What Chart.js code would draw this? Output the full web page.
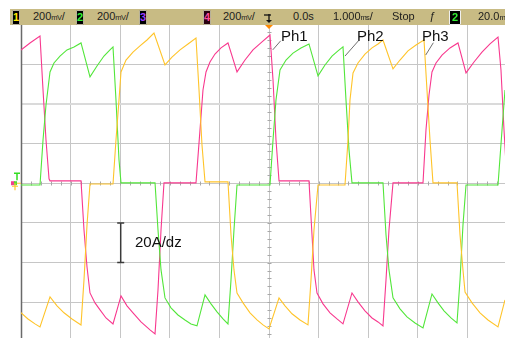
<!DOCTYPE html>
<html><head><meta charset="utf-8">
<script src="https://cdn.jsdelivr.net/npm/chart.js@4/dist/chart.umd.min.js"></script>
<style>
html,body{margin:0;padding:0;background:#fff;}
#wrap{position:relative;width:505px;height:338px;overflow:hidden;font-family:"Liberation Sans",Arial,sans-serif;}
#c{position:absolute;left:0;top:0;}
.t{position:absolute;white-space:nowrap;color:#1c1c1c;}
.hd{font-size:11px;line-height:11px;top:11px;}
.u{font-size:7.5px;letter-spacing:-0.7px;margin-right:0.5px;}
.bx{position:absolute;top:10px;height:13px;background:#000;border:1px solid #b8b29a;border-radius:1px;font:bold 11px/13px "Liberation Sans",Arial,sans-serif;text-align:center;}
.lab{font-size:15px;line-height:15px;color:#111;}
</style></head><body>
<div id="wrap">
<canvas id="c" width="505" height="338"></canvas>
<div style="position:absolute;left:10px;top:9px;width:495px;height:16px;background:#c8bb84;"></div>
<div class="bx" style="left:12px;width:6px;color:#ffe800">1</div>
<div class="t hd" style="left:33px">200<span class="u">mV</span>/</div>
<div class="bx" style="left:76px;width:6px;color:#33ee33">2</div>
<div class="t hd" style="left:97px">200<span class="u">mV</span>/</div>
<div class="bx" style="left:139px;width:6px;color:#9a3cff">3</div>
<div class="bx" style="left:203px;width:6px;color:#ff4a9a;background:#2a0010">4</div>
<div class="t hd" style="left:223px">200<span class="u">mV</span>/</div>
<svg style="position:absolute;left:262px;top:11px" width="14" height="20">
 <line x1="2" y1="4" x2="9" y2="4" stroke="#111" stroke-width="1.3"/>
 <line x1="7" y1="3" x2="7" y2="10" stroke="#111" stroke-width="1.3"/>
 <polygon points="4,9 10,9 7,12" fill="#111"/>
 <polygon points="3,14 11,14 7,18" fill="#ff8800"/>
</svg>
<div class="t hd" style="left:293px">0.0s</div>
<div class="t hd" style="left:333px">1.000<span class="u">ms</span>/</div>
<div class="t hd" style="left:392px">Stop</div>
<div class="t hd" style="left:429px;font-style:italic">ƒ</div>
<div class="bx" style="left:449px;width:10px;color:#33ee33;border-color:#f0f0f0">2</div>
<div class="t hd" style="left:478px">20.0<span class="u">mV</span></div>
<div class="t lab" style="left:281px;top:28px">Ph1</div>
<div class="t lab" style="left:357px;top:28px">Ph2</div>
<div class="t lab" style="left:422px;top:28px">Ph3</div>
<div class="t lab" style="left:135px;top:234px">20A/dz</div>
</div>
<script>
// time in ms (1 ms/div), current in A (20 A/div)
const timeTicks = [-5, -4, -3, -2, -1, 0, 1, 2, 3, 4];
const currentTicks = [-60, -40, -20, 0, 20, 40, 60];

// Ph1 (pink)
const ph1 = [[-5.181,65.6],[-5.000,67.2],[-4.819,70.7],[-4.617,74.2],[-4.556,47.0],[-4.496,21.8],[-4.435,2.2],[-4.415,1.2],
[-3.790,1.2],[-3.730,-23.5],[-3.669,-42.2],[-3.609,-55.3],[-3.508,-60.3],[-3.407,-63.8],[-3.286,-67.9],[-3.145,-70.9],
[-3.064,-63.8],[-2.984,-56.8],[-2.863,-61.8],[-2.742,-65.3],[-2.581,-69.9],[-2.399,-73.9],[-2.298,-75.9],[-2.238,-53.8],
[-2.177,-23.5],[-2.117,0.2],[-1.472,0.2],[-1.391,26.9],[-1.331,47.0],[-1.270,56.1],[-1.190,61.1],[-1.089,65.1],[-0.968,68.2],
[-0.827,70.7],[-0.645,56.1],[-0.484,62.1],[-0.323,67.2],[-0.141,71.2],[0.020,74.7],[0.081,52.0],[0.141,21.8],[0.202,1.2],
[0.806,1.2],[0.867,-26.0],[0.907,-43.7],[0.968,-55.3],[1.089,-60.8],[1.230,-65.3],[1.371,-68.4],[1.492,-70.9],[1.673,-55.3],
[1.794,-59.8],[1.935,-64.3],[2.077,-67.9],[2.198,-69.9],[2.298,-71.9],[2.359,-48.7],[2.419,-23.5],[2.500,0.2],[3.105,0.2],
[3.165,26.9],[3.226,44.5],[3.286,56.1],[3.367,60.6],[3.488,64.6],[3.649,68.2],[3.810,70.7],[3.972,55.6],[4.133,61.1],
[4.294,66.1],[4.456,70.2],[4.617,73.7],[4.677,57.1],[4.738,26.9],[4.798,1.2]];

// Ph2 (green)
const ph2 = [[-5.181,-0.9],[-4.617,-0.9],[-4.556,21.8],[-4.496,39.4],[-4.415,56.1],[-4.335,60.6],[-4.214,64.1],[-4.073,67.2],
[-3.931,68.7],[-3.790,70.7],[-3.609,53.6],[-3.468,59.1],[-3.327,64.1],[-3.206,67.2],[-3.145,68.7],[-3.085,42.0],[-3.024,11.7],
[-2.984,0.2],[-2.298,0.2],[-2.238,-23.5],[-2.177,-43.7],[-2.097,-57.8],[-1.976,-62.8],[-1.835,-66.4],[-1.694,-68.9],
[-1.573,-70.9],[-1.452,-71.9],[-1.290,-56.3],[-1.169,-60.8],[-1.048,-64.8],[-0.927,-68.4],[-0.827,-70.9],[-0.766,-48.7],
[-0.706,-23.5],[-0.645,-0.9],[0.020,-0.9],[0.081,21.8],[0.141,42.0],[0.222,57.1],[0.343,62.1],[0.484,65.6],[0.645,68.2],
[0.806,70.2],[0.988,54.1],[1.129,59.6],[1.270,64.1],[1.391,66.7],[1.492,68.7],[1.552,42.0],[1.613,16.8],[1.673,0.2],
[2.298,0.2],[2.359,-26.0],[2.419,-43.7],[2.500,-57.8],[2.641,-63.3],[2.782,-67.4],[2.944,-70.4],[3.105,-72.9],[3.286,-55.8],
[3.407,-60.3],[3.528,-64.3],[3.669,-67.9],[3.790,-70.4],[3.851,-48.7],[3.911,-21.0],[3.972,-0.9],[4.617,-0.9],[4.698,26.9],
[4.758,47.0],[4.819,56.1]];

// Ph3 (yellow)
const ph3 = [[-5.181,-63.3],[-5.000,-65.3],[-4.859,-68.4],[-4.718,-70.9],[-4.617,-72.4],[-4.415,-57.3],[-4.274,-61.8],
[-4.133,-65.3],[-3.972,-68.4],[-3.790,-71.4],[-3.730,-48.7],[-3.669,-21.0],[-3.609,-0.4],[-3.145,-0.4],[-3.085,21.8],
[-3.024,42.0],[-2.984,56.1],[-2.883,62.1],[-2.742,66.1],[-2.601,69.2],[-2.460,72.2],[-2.319,75.7],[-2.097,59.6],[-1.956,63.6],
[-1.794,67.2],[-1.633,70.2],[-1.472,73.2],[-1.411,47.0],[-1.351,19.3],[-1.290,0.7],[-0.827,0.7],[-0.766,-26.0],[-0.706,-43.7],
[-0.645,-55.3],[-0.524,-60.3],[-0.383,-65.3],[-0.242,-68.9],[-0.121,-71.4],[0.000,-73.4],[0.202,-57.8],[0.323,-61.8],
[0.464,-65.8],[0.625,-68.9],[0.786,-71.4],[0.847,-48.7],[0.907,-23.5],[0.988,-0.9],[1.532,-0.9],[1.593,21.8],[1.633,42.0],
[1.694,55.6],[1.794,60.6],[1.935,65.1],[2.077,68.2],[2.198,70.2],[2.298,72.2],[2.500,57.6],[2.641,62.1],[2.802,66.7],
[2.964,69.7],[3.125,72.2],[3.185,47.0],[3.246,21.8],[3.306,0.2],[3.790,0.2],[3.851,-26.0],[3.911,-43.7],[3.952,-54.8],
[4.093,-60.3],[4.254,-65.3],[4.415,-68.9],[4.617,-72.4],[4.758,-58.8]];

// annotation anchors (data coords)
const leaders = [[[0.236,71.8],[0.075,67.2]],[[1.800,71.7],[1.532,64.1]],[[3.313,70.8],[3.159,64.6]]];
const scaleBar = {t: -3, from: -20, to: -40};

const toXY = arr => arr.map(([t, a]) => ({x: t, y: a}));

const deco = {
  id: 'deco',
  beforeDraw(chart) {
    const ctx = chart.ctx;
    ctx.save(); ctx.fillStyle = '#fff'; ctx.fillRect(0, 0, chart.width, chart.height); ctx.restore();
  },
  beforeDatasetsDraw(chart) {
    const {ctx, chartArea: a, scales: {x, y}} = chart;
    ctx.save();
    const x0 = Math.round(x.getPixelForValue(0)) + 0.5;
    const y0 = Math.round(y.getPixelForValue(0)) + 0.5;
    ctx.strokeStyle = '#a8a8a8'; ctx.lineWidth = 1;
    ctx.beginPath();
    for (let i = -25; i <= 24; i++) {
      const px = Math.round(x.getPixelForValue(i * 0.2)) + 0.5;
      if (px < a.left + 2 || px > a.right) continue;
      ctx.moveTo(px, y0 - 2); ctx.lineTo(px, y0 + 2);
    }
    for (let i = -19; i <= 20; i++) {
      const py = Math.round(y.getPixelForValue(i * 4)) + 0.5;
      if (py < a.top + 1 || py > a.bottom) continue;
      ctx.moveTo(x0 - 2, py); ctx.lineTo(x0 + 2, py);
    }
    ctx.stroke();
    // left border
    ctx.strokeStyle = '#6a6a6a'; ctx.lineWidth = 1.5;
    ctx.beginPath(); ctx.moveTo(a.left + 0.5, a.top); ctx.lineTo(a.left + 0.5, a.bottom); ctx.stroke();
    ctx.restore();
  },
  afterDraw(chart) {
    const {ctx, scales: {x, y}} = chart;
    ctx.save();
    // leader lines
    ctx.strokeStyle = '#707070'; ctx.lineWidth = 1;
    leaders.forEach(([p, q]) => {
      ctx.beginPath();
      ctx.moveTo(x.getPixelForValue(p[0]), y.getPixelForValue(p[1]));
      ctx.lineTo(x.getPixelForValue(q[0]), y.getPixelForValue(q[1]));
      ctx.stroke();
    });
    // scale bar
    const bx = x.getPixelForValue(scaleBar.t) + 0.5;
    const b1 = y.getPixelForValue(scaleBar.from), b2 = y.getPixelForValue(scaleBar.to);
    ctx.strokeStyle = '#3a3a3a'; ctx.lineWidth = 1.5;
    ctx.beginPath();
    ctx.moveTo(bx, b1); ctx.lineTo(bx, b2);
    ctx.moveTo(bx - 3.5, b1); ctx.lineTo(bx + 3.5, b1);
    ctx.moveTo(bx - 3.5, b2); ctx.lineTo(bx + 3.5, b2);
    ctx.stroke();
    // left ground / trigger markers
    const gy = y.getPixelForValue(0);
    ctx.lineWidth = 1.5; ctx.strokeStyle = '#33dd22';
    ctx.beginPath(); ctx.moveTo(14, gy - 10); ctx.lineTo(20, gy - 10); ctx.moveTo(17, gy - 10); ctx.lineTo(17, gy - 3); ctx.stroke();
    ctx.fillStyle = '#f04090'; ctx.fillRect(11, gy - 2, 4, 4);
    ctx.fillStyle = '#55dd33'; ctx.fillRect(14, gy - 2, 3, 4);
    ctx.strokeStyle = '#ffc830'; ctx.lineWidth = 1.2;
    ctx.beginPath(); ctx.moveTo(12, gy + 3); ctx.lineTo(18, gy + 3); ctx.moveTo(15, gy); ctx.lineTo(15, gy + 7);
    ctx.moveTo(17, gy); ctx.lineTo(21, gy); ctx.stroke();
    ctx.restore();
  }
};

new Chart(document.getElementById('c'), {
  type: 'line',
  data: {
    datasets: [
      {label: 'Ph3', data: toXY(ph3), borderColor: '#ffc42a'},
      {label: 'Ph2', data: toXY(ph2), borderColor: '#52e63a'},
      {label: 'Ph1', data: toXY(ph1), borderColor: '#f8388e'}
    ].map(d => Object.assign(d, {borderWidth: 1.1, pointRadius: 0, tension: 0, fill: false}))
  },
  options: {
    responsive: false, animation: false, devicePixelRatio: 1,
    layout: {padding: {left: 21, top: 24.5, right: 0, bottom: 0}},
    plugins: {legend: {display: false}, tooltip: {enabled: false}},
    scales: {
      x: {
        type: 'linear', min: -5, max: 4.758,
        afterBuildTicks: s => { s.ticks = timeTicks.map(v => ({value: v})); },
        ticks: {display: false},
        grid: {drawTicks: false, color: c => c.tick && c.tick.value === -5 ? 'rgba(0,0,0,0)' : '#c6c6c6', lineWidth: 1},
        border: {display: false}
      },
      y: {
        type: 'linear', min: -78, max: 80,
        afterBuildTicks: s => { s.ticks = currentTicks.map(v => ({value: v})); },
        ticks: {display: false},
        grid: {drawTicks: false,
          color: c => c.tick && c.tick.value === 40 ? '#dadada' : '#c6c6c6',
          lineWidth: c => c.tick && c.tick.value === 40 ? 2 : 1},
        border: {display: false}
      }
    }
  },
  plugins: [deco]
});
</script>
</body></html>
